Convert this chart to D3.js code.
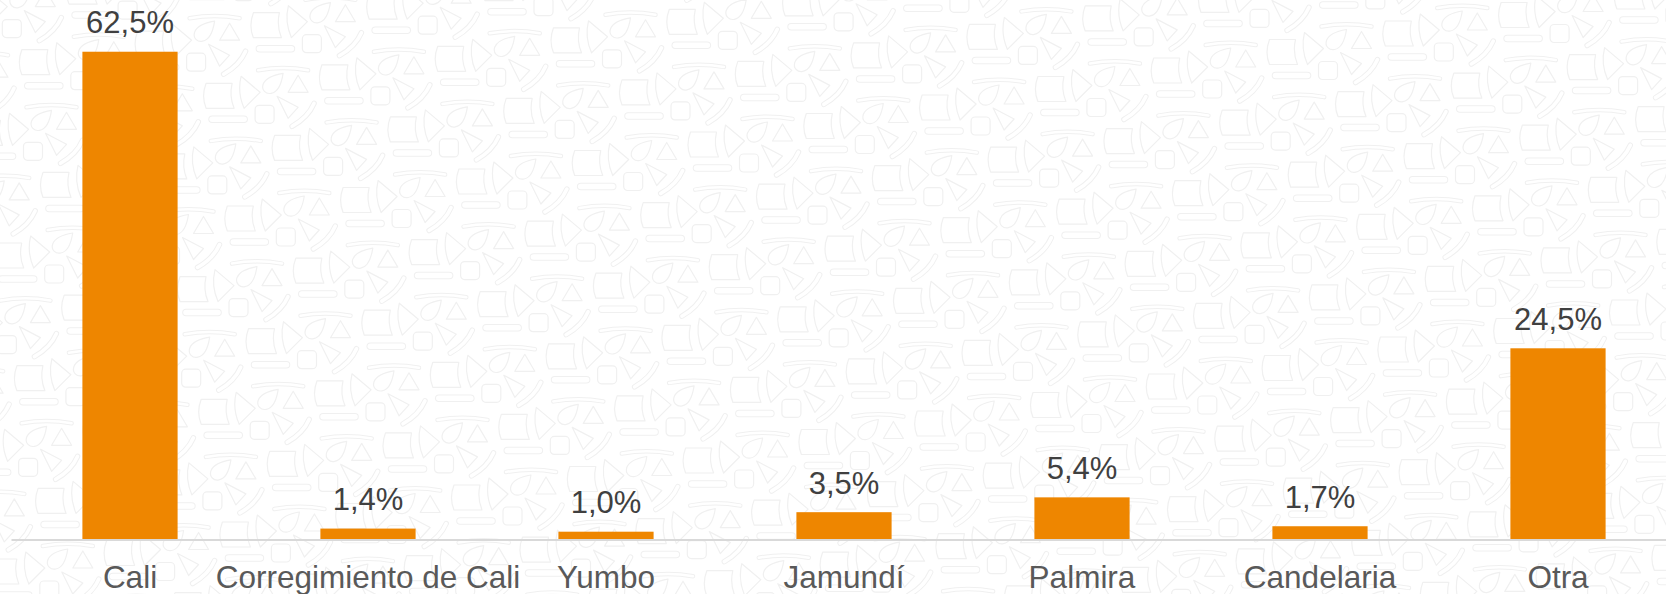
<!DOCTYPE html>
<html>
<head>
<meta charset="utf-8">
<script src="https://cdn.jsdelivr.net/npm/d3@7"></script>
<style>
  body { margin: 0; background: #fff; }
  svg { display: block; font-family: "Liberation Sans", Arial, sans-serif; }
</style>
</head>
<body>
<svg id="chart"></svg>
<script>
const categories = ['Cali', 'Corregimiento de Cali', 'Yumbo', 'Jamundí', 'Palmira', 'Candelaria', 'Otra'];
const values = [62.5, 1.4, 1.0, 3.5, 5.4, 1.7, 24.5];

const width = 1666;
const height = 594;

const svg = d3.select('#chart')
  .attr('width', width)
  .attr('height', height);

// faint doodle wallpaper behind the chart
const defs = svg.append('defs');
const motif = defs.append('g').attr('id', 'motif');
const outline = '#f0f0f0';

const bands = [
  { d: 'M1,3 Q26,-1.5 51,3', w: 4.5 },
  { d: 'M-45,52 L-13,52', w: 7.5 },
  { d: 'M57,36 Q51,50 35,59', w: 5.5 }
];
bands.forEach(b => {
  motif.append('path').attr('d', b.d).attr('fill', 'none')
    .attr('stroke', outline).attr('stroke-width', b.w).attr('stroke-linecap', 'round');
  motif.append('path').attr('d', b.d).attr('fill', 'none')
    .attr('stroke', '#fff').attr('stroke-width', b.w - 2).attr('stroke-linecap', 'round');
});

const shapes = [
  'M26,6 C20,7 9,9 6,17 C4,23 9,27 14,26 C20,25 24,19 26,6 Z',
  'M41,8 L51,25 L31,25 Z',
  'M-51,16 L-25,16 Q-28,29 -23,41 L-51,41 Q-56,29 -51,16 Z',
  'M-16,9 L3,25 L-13,41 Q-20,25 -16,9 Z',
  'M20,29 L41,40 L31,51 Z'
];
shapes.forEach(d => {
  motif.append('path').attr('d', d).attr('fill', 'none')
    .attr('stroke', outline).attr('stroke-width', 1.2).attr('stroke-linejoin', 'round');
});
motif.append('rect').attr('x', -2).attr('y', 38).attr('width', 19).attr('height', 18).attr('rx', 4)
  .attr('fill', 'none').attr('stroke', outline).attr('stroke-width', 1.2);

const wallpaper = svg.append('g');
const origin = [278.3, 190];
const stepA = [115.8, -18.5];
const stepB = [68.5, 52.1];
for (let i = -20; i <= 30; i++) {
  for (let j = -10; j <= 20; j++) {
    const px = origin[0] + i * stepA[0] + j * stepB[0];
    const py = origin[1] + i * stepA[1] + j * stepB[1];
    if (px < -80 || px > width + 80 || py < -80 || py > height + 20) continue;
    wallpaper.append('use').attr('href', '#motif')
      .attr('transform', `translate(${px},${py})`);
  }
}

const x = d3.scaleBand()
  .domain(categories)
  .range([11, 1677])
  .paddingInner(0.6)
  .paddingOuter(0.3);

const y = d3.scaleLinear()
  .domain([0, 69])
  .range([539.5, 1]);

const es = d3.formatLocale({ decimal: ',', thousands: '.', grouping: [3], currency: ['', '€'] });
const fmt = v => es.format('.1f')(v) + '%';

svg.append('g')
  .selectAll('rect')
  .data(values)
  .join('rect')
  .attr('x', (d, i) => x(categories[i]))
  .attr('y', d => y(d))
  .attr('width', x.bandwidth())
  .attr('height', d => y(0) - y(d))
  .attr('fill', '#EE8600');

svg.append('g')
  .selectAll('text')
  .data(values)
  .join('text')
  .attr('x', (d, i) => x(categories[i]) + x.bandwidth() / 2)
  .attr('y', d => y(d) - 18.4)
  .attr('text-anchor', 'middle')
  .style('font-size', '31px')
  .style('fill', '#404040')
  .text(d => fmt(d));

const axis = svg.append('g')
  .attr('transform', `translate(0,${y(0)})`)
  .call(d3.axisBottom(x).tickSize(0).tickPadding(26));

axis.select('.domain')
  .attr('stroke', '#d9d9d9')
  .attr('stroke-width', 2);

axis.selectAll('text')
  .style('font-size', '31.5px')
  .style('font-family', '"Liberation Sans", Arial, sans-serif')
  .style('fill', '#595959');
</script>
</body>
</html>
